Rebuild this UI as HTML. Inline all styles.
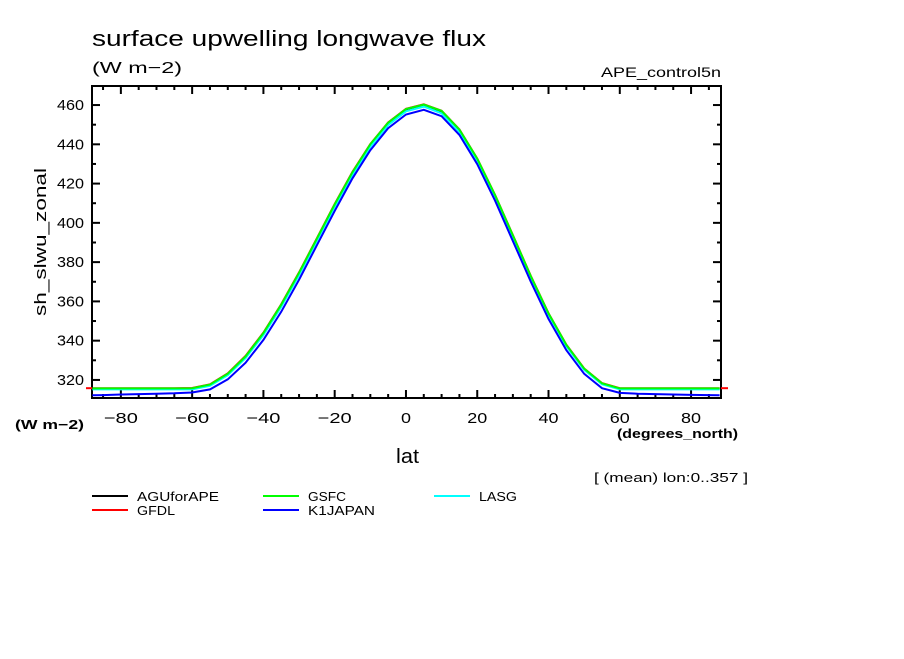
<!DOCTYPE html>
<html><head><meta charset="utf-8"><style>
html,body{margin:0;padding:0;background:#fff;}
svg text{font-family:"Liberation Sans",sans-serif;fill:#000;}
</style></head><body>
<svg width="904" height="654" xmlns="http://www.w3.org/2000/svg">
<text x="92" y="46" font-size="22" textLength="394" lengthAdjust="spacingAndGlyphs">surface upwelling longwave flux</text>
<text x="92" y="73" font-size="16" textLength="90" lengthAdjust="spacingAndGlyphs">(W m−2)</text>
<text x="601" y="77" font-size="14" textLength="120" lengthAdjust="spacingAndGlyphs">APE_control5n</text>
<g id="axes"></g>
<g id="series"></g>
<text x="46" y="242" font-size="17" text-anchor="middle" textLength="148" lengthAdjust="spacingAndGlyphs" transform="rotate(-90 46 242)">sh_slwu_zonal</text>
<text x="15" y="429" font-size="13" font-weight="bold" textLength="69" lengthAdjust="spacingAndGlyphs">(W m−2)</text>
<text x="617" y="438" font-size="13" font-weight="bold" textLength="121" lengthAdjust="spacingAndGlyphs">(degrees_north)</text>
<text x="396" y="463" font-size="20" textLength="23" lengthAdjust="spacingAndGlyphs">lat</text>
<text x="594" y="482" font-size="13" textLength="154" lengthAdjust="spacingAndGlyphs">[ (mean) lon:0..357 ]</text>
<g id="legend" font-size="13"></g>
</svg>
<script>
const lats=[-88,-85,-80,-75,-70,-65,-60,-55,-50,-45,-40,-35,-30,-25,-20,-15,-10,-5,0,5,10,15,20,25,30,35,40,45,50,55,60,65,70,75,80,85,88];
const base=[315.6,315.6,315.6,315.6,315.6,315.6,315.6,317.4,322.9,331.7,343.5,357.9,374.2,391.6,409.0,425.5,439.7,450.8,457.8,460.2,456.8,447.2,432.3,413.7,393.2,372.7,353.7,337.7,325.6,318.2,315.6,315.6,315.6,315.6,315.6,315.6,315.6];
const gfdl=[315.8,315.8,315.8,315.8,315.8,315.8,315.9,317.8,323.4,332.3,344.1,358.5,374.8,392.2,409.6,426.0,440.1,451.1,458.1,460.4,457.1,447.6,432.8,414.2,393.7,373.1,354.0,338.0,325.8,318.4,315.8,315.8,315.8,315.8,315.8,315.8,315.8];
const gsfc=[315.7,315.7,315.7,315.7,315.7,315.7,315.8,317.6,323.2,332.0,343.9,358.3,374.6,392.0,409.4,425.8,440.0,451.0,458.0,460.3,457.0,447.5,432.7,414.1,393.6,373.0,353.9,337.9,325.7,318.3,315.7,315.7,315.7,315.7,315.7,315.7,315.7];
const lasg=[315.2,315.2,315.2,315.2,315.2,315.2,315.2,317.0,322.4,331.1,342.9,357.2,373.5,390.9,408.2,424.6,438.8,449.8,456.8,459.2,455.8,446.3,431.5,413.0,392.6,372.2,353.2,337.2,325.1,317.8,315.2,315.2,315.2,315.2,315.2,315.2,315.2];
const k1japan=[312.2,312.3,312.6,312.8,313.0,313.2,313.6,315.2,320.3,328.8,340.4,354.7,371.1,388.6,406.1,422.7,437.0,448.2,455.2,457.6,454.3,444.8,429.9,411.3,390.7,370.2,351.1,335.2,323.1,315.8,313.4,313.0,312.8,312.6,312.4,312.3,312.2];
const seriesNames=["AGUforAPE","GFDL","GSFC","K1JAPAN","LASG"];
const yTicks=[320,340,360,380,400,420,440,460];
const xTicks=[-80,-60,-40,-20,0,20,40,60,80];
const NS="http://www.w3.org/2000/svg";
const X0=92,X1=721,Y0=86,Y1=398,LMIN=-88.1,LMAX=88.4,VMIN=310.8,VMAX=469.7;
const sx=l=>X0+(l-LMIN)/(LMAX-LMIN)*(X1-X0);
const sy=v=>Y1-(v-VMIN)/(VMAX-VMIN)*(Y1-Y0);
function mk(t,a,p){const e=document.createElementNS(NS,t);for(const k in a)e.setAttribute(k,a[k]);p.appendChild(e);return e;}
const ax=document.getElementById('axes');
const fr=mk('rect',{x:X0,y:Y0,width:X1-X0,height:Y1-Y0,fill:'none',stroke:'#000','stroke-width':2},ax);


for(let l=-85;l<=85;l+=5){const maj=l%20===0;const L=maj?8:4;const x=sx(l);
 mk('line',{x1:x,x2:x,y1:Y1,y2:Y1-L,stroke:'#000','stroke-width':2},ax);
 mk('line',{x1:x,x2:x,y1:Y0,y2:Y0+L,stroke:'#000','stroke-width':2},ax);}
for(let v=320;v<=460;v+=10){const maj=v%20===0;const L=maj?8:4;const y=sy(v);
 mk('line',{x1:X0,x2:X0+L,y1:y,y2:y,stroke:'#000','stroke-width':2},ax);
 mk('line',{x1:X1,x2:X1-L,y1:y,y2:y,stroke:'#000','stroke-width':2},ax);}
yTicks.forEach(v=>{const t=mk('text',{x:84,y:sy(v)+5,'font-size':15,'text-anchor':'end',textLength:27,lengthAdjust:'spacingAndGlyphs'},ax);t.textContent=v;
 
 });
xTicks.forEach(v=>{const w=v===0?10:(v<0?34:20);const t=mk('text',{x:sx(v)-w/2,y:423,'font-size':15,textLength:w,lengthAdjust:'spacingAndGlyphs'},ax);t.textContent=(v<0?'−':'')+Math.abs(v);
 
 });
const sg=document.getElementById('series');
const draws=[[base,'#000','AGUforAPE'],[gfdl,'#f00','GFDL'],[lasg,'#0ff','LASG'],[gsfc,'#0f0','GSFC'],[k1japan,'#00f','K1JAPAN']];
draws.forEach(([d,c,n])=>{const pts=lats.map((l,i)=>sx(l).toFixed(1)+','+sy(d[i]).toFixed(1)).join(' ');
 const p=mk('polyline',{points:pts,fill:'none',stroke:c,'stroke-width':2},sg);
 
 });
mk('line',{x1:86,x2:X0,y1:sy(gfdl[0]),y2:sy(gfdl[0]),stroke:'#f00','stroke-width':2},sg);
mk('line',{x1:X1,x2:728,y1:sy(gfdl[36]),y2:sy(gfdl[36]),stroke:'#f00','stroke-width':2},sg);
const lg=document.getElementById('legend');
const items=[["AGUforAPE","#000",92,496,82],["GFDL","#f00",92,510,38],["GSFC","#0f0",263,496,38],["K1JAPAN","#00f",263,510,67],["LASG","#0ff",434,496,38]];
items.forEach(([n,c,x,y,w])=>{const g=mk('g',{},lg);
 
 
 mk('line',{x1:x,x2:x+36,y1:y,y2:y,stroke:c,'stroke-width':2},g);
 const t=mk('text',{x:x+45,y:y+5,textLength:w,lengthAdjust:'spacingAndGlyphs'},g);t.textContent=n;});
</script>
</body></html>
